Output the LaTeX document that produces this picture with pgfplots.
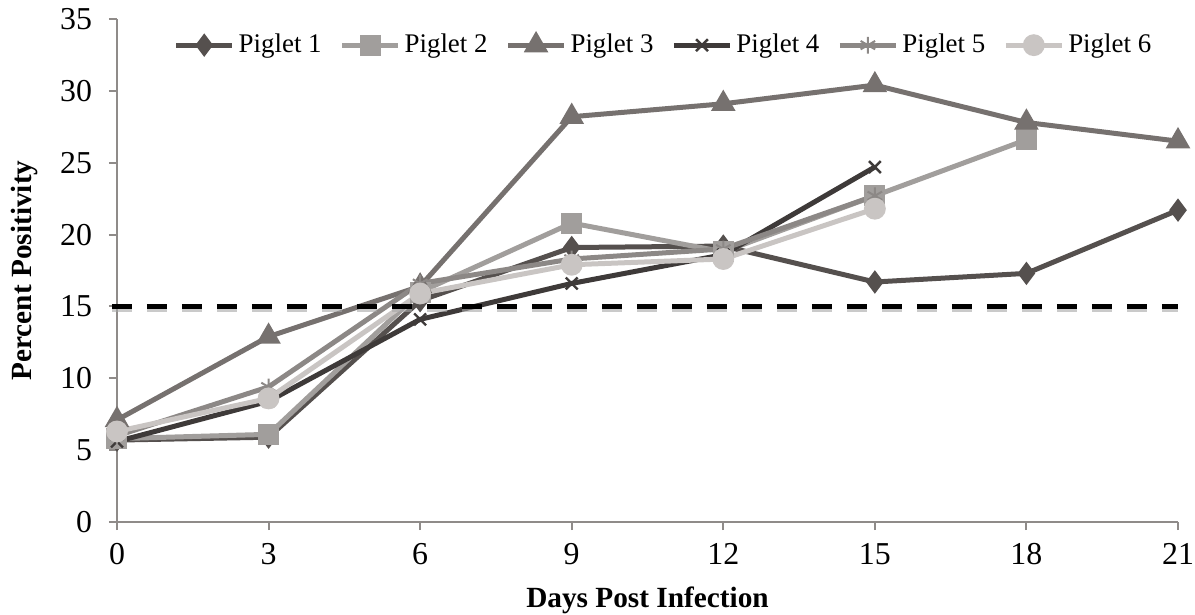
\documentclass[border=0pt]{standalone}
\usepackage{pgfplots}
\pgfplotsset{compat=1.18}
\usepackage{fontspec}
\setmainfont{Liberation Serif}
\usetikzlibrary{plotmarks,calc}
\definecolor{pa}{HTML}{55504E}
\definecolor{pb}{HTML}{A19E9C}
\definecolor{pc}{HTML}{76716F}
\definecolor{pd}{HTML}{3E3A39}
\definecolor{pe}{HTML}{8C8886}
\definecolor{pf}{HTML}{C9C5C3}
\definecolor{axc}{HTML}{8F8B89}
\begin{document}
\begin{tikzpicture}
\begin{axis}[
  scale only axis, width=530.5bp, height=251.5bp,
  xmin=0, xmax=21, ymin=0, ymax=35,
  xtick={0,3,...,21}, ytick={0,5,...,35},
  axis x line*=bottom, axis y line*=left,
  axis line style={axc, line width=1bp, -},
  tick style={axc, line width=1bp},
  tick align=outside, major tick length=4bp,
  every tick label/.append style={font=\fontsize{16}{18}\selectfont, text=black},
  yticklabel style={xshift=-5bp},
  xticklabel style={yshift=-3bp},
  /pgf/number format/assume math mode=true,
  xlabel={\textbf{Days Post Infection}},
  ylabel={\textbf{Percent Positivity}},
  every axis x label/.style={at={(rel axis cs:0.5,0)}, yshift=-39bp, anchor=center, font=\fontsize{14.7}{17}\selectfont},
  every axis y label/.style={at={(rel axis cs:0,0.5)}, xshift=-46bp, rotate=90, anchor=center, font=\fontsize{14.7}{17}\selectfont},
  clip=false,
  every axis plot/.append style={line width=2.5bp},
  legend columns=6,
  legend style={draw=none, fill=none, at={(0.516,0.948)}, anchor=center,
    font=\fontsize{13.5}{15}\selectfont,
    /tikz/every even column/.append style={column sep=7bp},
    inner sep=0pt},
  legend image code/.code={\draw[mark repeat=2,mark phase=2,#1] plot coordinates {(0bp,0bp) (14bp,0bp) (28bp,0bp)};},
]
\coordinate (O) at (rel axis cs:0,0);
\addplot[color=pa, mark=diamond*, mark size=3.8bp, mark options={solid,fill=pa}] coordinates {
(0,5.7) (3,5.9) (6,15.4) (9,19.1) (12,19.2) (15,16.7) (18,17.3) (21,21.7)};
\addlegendentry{Piglet 1}
\addplot[color=pb, mark=square*, mark size=4bp, mark options={solid,fill=pb}] coordinates {
(0,5.8) (3,6.1) (6,16.0) (9,20.8) (12,18.8) (15,22.7) (18,26.6)};
\addlegendentry{Piglet 2}
\addplot[color=pc, mark=triangle*, mark size=4.6bp, mark options={solid,fill=pc}] coordinates {
(0,7.1) (3,12.9) (6,16.4) (9,28.2) (12,29.1) (15,30.4) (18,27.8) (21,26.5)};
\addlegendentry{Piglet 3}
\addplot[color=pd, mark=x, mark size=4.2bp, mark options={solid, line width=1.2bp}] coordinates {
(0,5.6) (3,8.4) (6,14.1) (9,16.6) (12,18.6) (15,24.7)};
\addlegendentry{Piglet 4}
\addplot[color=pe, mark=asterisk, mark size=4.2bp, mark options={solid, line width=1bp}] coordinates {
(0,6.0) (3,9.4) (6,16.6) (9,18.3) (12,19.0) (15,22.7)};
\addlegendentry{Piglet 5}
\addplot[color=pf, mark=*, mark size=4.2bp, mark options={solid,fill=pf}] coordinates {
(0,6.3) (3,8.6) (6,15.9) (9,17.9) (12,18.3) (15,21.8)};
\addlegendentry{Piglet 6}
\addplot[forget plot, color=black!35, opacity=0.6, line width=2.8bp, dash pattern=on 10bp off 7.5bp, yshift=-1.5bp] coordinates {(-0.1,15) (21,15)};
\addplot[forget plot, color=black, line width=2.8bp, dash pattern=on 10bp off 7.5bp] coordinates {(-0.1,15) (21,15)};
\end{axis}
\pgfresetboundingbox
\path ($(O)+(-58.5bp,-46.5bp)$) rectangle ($(O)+(539bp,261bp)$);
\end{tikzpicture}
\end{document}
